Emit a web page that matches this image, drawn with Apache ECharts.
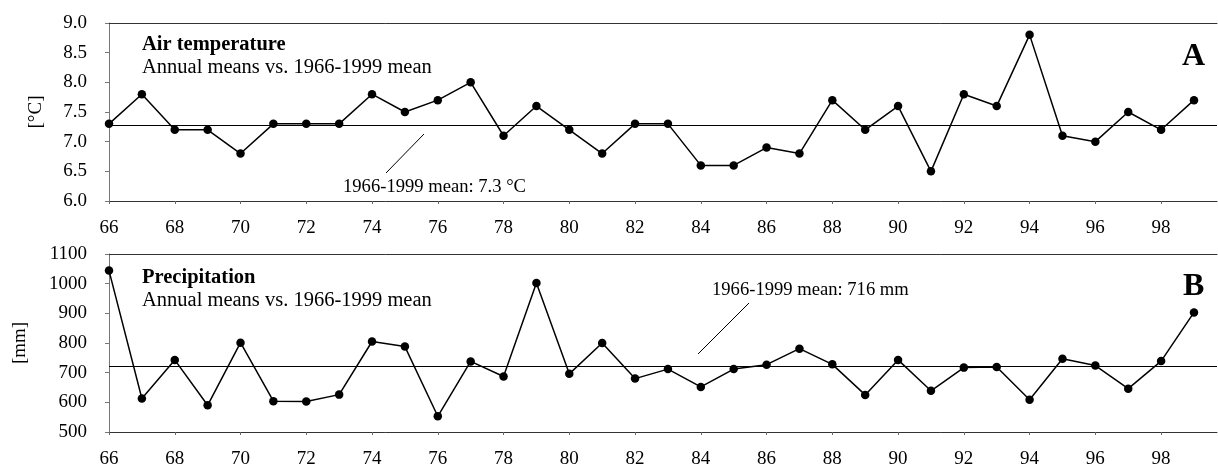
<!DOCTYPE html>
<html>
<head>
<meta charset="utf-8">
<script src="https://cdn.jsdelivr.net/npm/echarts@6/dist/echarts.min.js"></script>
<style>html,body{margin:0;padding:0;background:#fff;}#c{width:1218px;height:466px;}</style>
</head>
<body>
<div id="c"></div>
<script>
// ---- data ----
const years = [66,67,68,69,70,71,72,73,74,75,76,77,78,79,80,81,82,83,84,85,86,87,88,89,90,91,92,93,94,95,96,97,98,99];
const airTemp = [7.3,7.8,7.2,7.2,6.8,7.3,7.3,7.3,7.8,7.5,7.7,8.0,7.1,7.6,7.2,6.8,7.3,7.3,6.6,6.6,6.9,6.8,7.7,7.2,7.6,6.5,7.8,7.6,8.8,7.1,7.0,7.5,7.2,7.7];
const precip = [1044,613,743,590,801,604,603,626,805,788,553,738,687,1002,696,800,680,712,652,712,727,781,728,625,743,639,717,719,609,747,724,646,739,903];
const meanTemp = 7.27;
const meanPrecip = 722;
const tempTicks = {min: 6, max: 9, interval: 0.5};
const precipTicks = {min: 500, max: 1100, interval: 100};
const yearAxis = {min: 66, max: 99.7, interval: 2};

const FONT = 'Liberation Serif';
const chart = echarts.init(document.getElementById('c'), null, {renderer: 'canvas'});

function xBottom(gi) {
  return {
    type: 'value', gridIndex: gi, min: yearAxis.min, max: yearAxis.max, interval: yearAxis.interval,
    axisLine: {show: true, onZero: false, lineStyle: {color: '#333', width: 1}},
    axisTick: {show: true, length: 3, lineStyle: {color: '#666'}},
    splitLine: {show: false},
    axisLabel: {
      color: '#000', fontFamily: FONT, fontSize: 19, margin: 18,
      showMaxLabel: false,
      formatter: v => (Math.abs(v - Math.round(v)) < 1e-6 && Math.round(v) % 2 === 0 && v <= 98) ? String(Math.round(v)) : ''
    }
  };
}
function xTop(gi) {
  return {
    type: 'value', gridIndex: gi, position: 'top', min: yearAxis.min, max: yearAxis.max,
    axisLine: {show: true, onZero: false, lineStyle: {color: '#333', width: 1}},
    axisTick: {show: false}, axisLabel: {show: false}, splitLine: {show: false}
  };
}
function yAx(gi, t, name, gap, fmt) {
  return {
    type: 'value', gridIndex: gi, min: t.min, max: t.max, interval: t.interval,
    name: name, nameLocation: 'middle', nameRotate: 90, nameGap: gap,
    nameTextStyle: {color: '#000', fontFamily: FONT, fontSize: 19},
    axisLine: {show: true, lineStyle: {color: '#777', width: 1}},
    axisTick: {show: true, length: 4, lineStyle: {color: '#777'}},
    splitLine: {show: false},
    axisLabel: {color: '#000', fontFamily: FONT, fontSize: 19, margin: 22, formatter: fmt}
  };
}
function lineSeries(xi, yi, data, mean) {
  return {
    type: 'line', xAxisIndex: xi, yAxisIndex: yi,
    data: years.map((y, i) => [y, data[i]]),
    symbol: 'circle', symbolSize: 8.5,
    itemStyle: {color: '#000'},
    lineStyle: {color: '#000', width: 1.5},
    animation: false, silent: true,
    markLine: {
      silent: true, symbol: 'none', animation: false,
      label: {show: false},
      lineStyle: {color: '#000', width: 1, type: 'solid'},
      data: [{yAxis: mean}]
    }
  };
}

const txt = (text, x, y, size, bold) => ({
  type: 'text', x: x, y: y, silent: true,
  style: {text: text, font: (bold ? 'bold ' : '') + size + 'px "' + FONT + '"', fill: '#000', verticalAlign: 'middle'}
});
const seg = (x1, y1, x2, y2) => ({
  type: 'line', silent: true, shape: {x1, y1, x2, y2}, style: {stroke: '#000', lineWidth: 1}
});

chart.setOption({
  backgroundColor: '#fff',
  animation: false,
  grid: [
    {left: 109, right: 1, top: 23, height: 178, outerBoundsMode: 'none', containLabel: false},
    {left: 109, right: 1, top: 254, height: 178, outerBoundsMode: 'none', containLabel: false}
  ],
  xAxis: [xBottom(0), xBottom(1), xTop(0), xTop(1)],
  yAxis: [
    yAx(0, tempTicks, '[°C]', 63, v => v.toFixed(1)),
    yAx(1, precipTicks, '[mm]', 79, v => String(v))
  ],
  series: [
    lineSeries(0, 0, airTemp, meanTemp),
    lineSeries(1, 1, precip, meanPrecip)
  ],
  graphic: [
    txt('Air temperature', 142, 45, 20.5, true),
    txt('Annual means vs. 1966-1999 mean', 142, 68, 20.5, false),
    txt('A', 1182, 57, 32, true),
    txt('1966-1999 mean: 7.3 °C', 343, 187, 18.6, false),
    seg(386, 173, 424, 134),
    txt('Precipitation', 142, 278, 20.5, true),
    txt('Annual means vs. 1966-1999 mean', 142, 301, 20.5, false),
    txt('B', 1183, 287, 32, true),
    txt('1966-1999 mean: 716 mm', 712, 290, 18.6, false),
    seg(749, 303, 698, 354)
  ]
});
</script>
</body>
</html>
